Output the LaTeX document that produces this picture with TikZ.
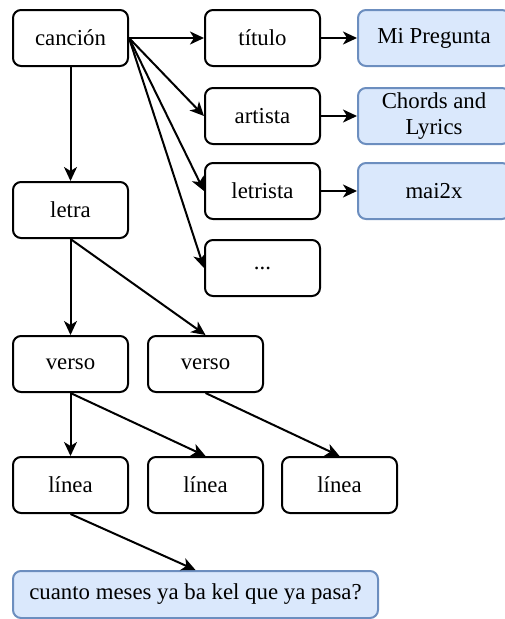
\documentclass[tikz,border=0pt]{standalone}
\usepackage{fontspec}
\newfontfamily\boxfont{Liberation Serif}
\usetikzlibrary{arrows.meta}
\definecolor{valfill}{RGB}{218,232,252}
\definecolor{valdraw}{RGB}{108,142,191}
\begin{document}
\begin{tikzpicture}[x=1pt,y=-1pt,
  box/.style={draw=black, line width=2pt, rounded corners=8pt, fill=white,
    minimum width=115pt, minimum height=56pt, inner sep=0pt, align=center,
    font=\boxfont\fontsize{22.8}{26.5}\selectfont},
  valbox/.style={box, draw=valdraw, fill=valfill, minimum width=152pt},
  link/.style={line width=2pt, -{Stealth[length=14pt,width=13pt,inset=4pt]}}]
\useasboundingbox (0,0) rectangle (504,619);

% song structure
\node[box] (cancion) at (70.5,38) {canción};
\node[box] (titulo) at (262.5,38) {título};
\node[box] (artista) at (262.5,116) {artista};
\node[box] (letrista) at (262.5,191) {letrista};
\node[box] (dots) at (262.5,268) {...};

% metadata values (boxes run past the right edge of the page)
\node[valbox] (mipregunta) at (434,38) {Mi Pregunta};
\node[valbox] (chords) at (434,116) {Chords and\\Lyrics};
\node[valbox] (mai) at (434,191) {mai2x};

% lyrics tree
\node[box] (letra) at (70.5,210) {letra};
\node[box] (verso1) at (70.5,364) {verso};
\node[box] (verso2) at (205.5,364) {verso};
\node[box] (linea1) at (70.5,485) {línea};
\node[box] (linea2) at (205.5,485) {línea};
\node[box] (linea3) at (339.5,485) {línea};
\node[valbox, minimum width=365pt, minimum height=47pt] (texto) at (195.5,594.5) {cuanto meses ya ba kel que ya pasa?};

% connectors
\draw[link] (cancion.east) -- (titulo.west);
\draw[link] (cancion.east) -- (artista.west);
\draw[link] (cancion.east) -- (letrista.west);
\draw[link] (cancion.east) -- (dots.west);
\draw[link] (titulo.east) -- (mipregunta.west);
\draw[link] (artista.east) -- (chords.west);
\draw[link] (letrista.east) -- (mai.west);
\draw[link] (cancion.south) -- (letra.north);
\draw[link] (letra.south) -- (verso1.north);
\draw[link] (letra.south) -- (verso2.north);
\draw[link] (verso1.south) -- (linea1.north);
\draw[link] (verso1.south) -- (linea2.north);
\draw[link] (verso2.south) -- (linea3.north);
\draw[link] (linea1.south) -- (texto.north);
\end{tikzpicture}
\end{document}
